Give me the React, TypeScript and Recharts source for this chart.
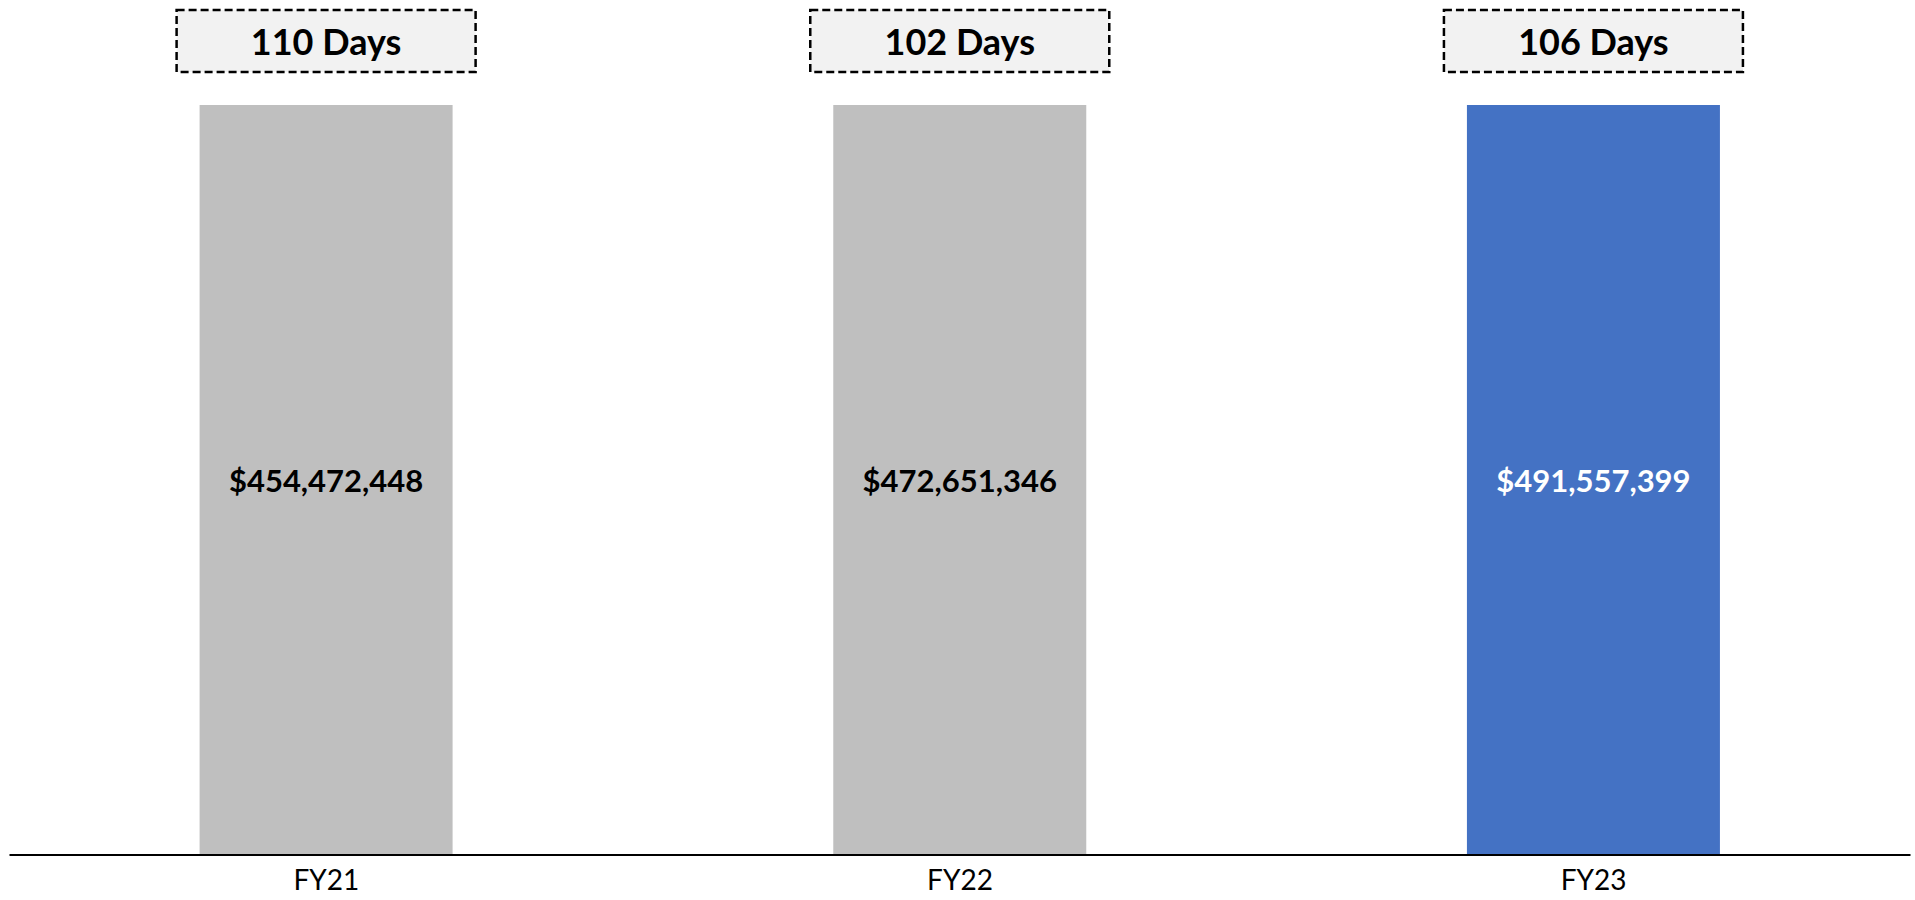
import React from 'react';
import { BarChart, Bar, XAxis, YAxis, Cell, LabelList } from 'recharts';

const years = ['FY21', 'FY22', 'FY23'];
const amounts = [454472448, 472651346, 491557399];
const days = [110, 102, 106];
// all three bars are drawn at the same height in the picture
const barLevel = [1, 1, 1];
const barColors = ['#BFBFBF', '#BFBFBF', '#4472C4'];
const labelColors = ['#000000', '#000000', '#FFFFFF'];

const FONT = 'Lato, "Open Sans", sans-serif';

const data = years.map((year, i) => ({
  year,
  level: barLevel[i],
  amount: amounts[i],
  days: days[i],
}));

const formatAmount = (v: number) => `$${v.toLocaleString('en-US')}`;

const DaysBox = (props: any) => {
  const { x, y, width, value } = props;
  const cx = Number(x) + Number(width) / 2;
  const boxW = 299;
  const boxH = 62;
  const top = Number(y) - 33 - boxH;
  return (
    <g>
      <rect
        x={cx - boxW / 2}
        y={top}
        width={boxW}
        height={boxH}
        fill="#F2F2F2"
        stroke="#000"
        strokeWidth={2.5}
        strokeDasharray="8 4"
      />
      <text
        x={cx}
        y={top + boxH / 2}
        textAnchor="middle"
        dominantBaseline="central"
        fontFamily={FONT}
        fontWeight={700}
        fontSize={36}
        fill="#000"
      >
        {`${value} Days`}
      </text>
    </g>
  );
};

const AmountLabel = (props: any) => {
  const { x, y, width, height, value, index } = props;
  return (
    <text
      x={Number(x) + Number(width) / 2}
      y={Number(y) + Number(height) / 2}
      textAnchor="middle"
      dominantBaseline="central"
      fontFamily={FONT}
      fontWeight={700}
      fontSize={31}
      fill={labelColors[index]}
    >
      {formatAmount(value)}
    </text>
  );
};

export default function App() {
  return (
    <div style={{ position: 'absolute', left: 0, top: 0, width: 1915, height: 900, background: '#fff' }}>
      <BarChart
        width={1915}
        height={900}
        data={data}
        margin={{ top: 105, right: 4.5, bottom: 0, left: 9.5 }}
        barCategoryGap="30%"
      >
        <XAxis
          dataKey="year"
          height={45}
          axisLine={{ stroke: '#000', strokeWidth: 2 }}
          tickLine={false}
          tick={{ fill: '#000', fontSize: 28, fontFamily: FONT }}
          tickMargin={9}
        />
        <YAxis hide domain={[0, 1]} />
        <Bar dataKey="level" isAnimationActive={false}>
          {data.map((d, i) => (
            <Cell key={d.year} fill={barColors[i]} />
          ))}
          <LabelList dataKey="days" content={DaysBox} />
          <LabelList dataKey="amount" content={AmountLabel} />
        </Bar>
      </BarChart>
    </div>
  );
}
